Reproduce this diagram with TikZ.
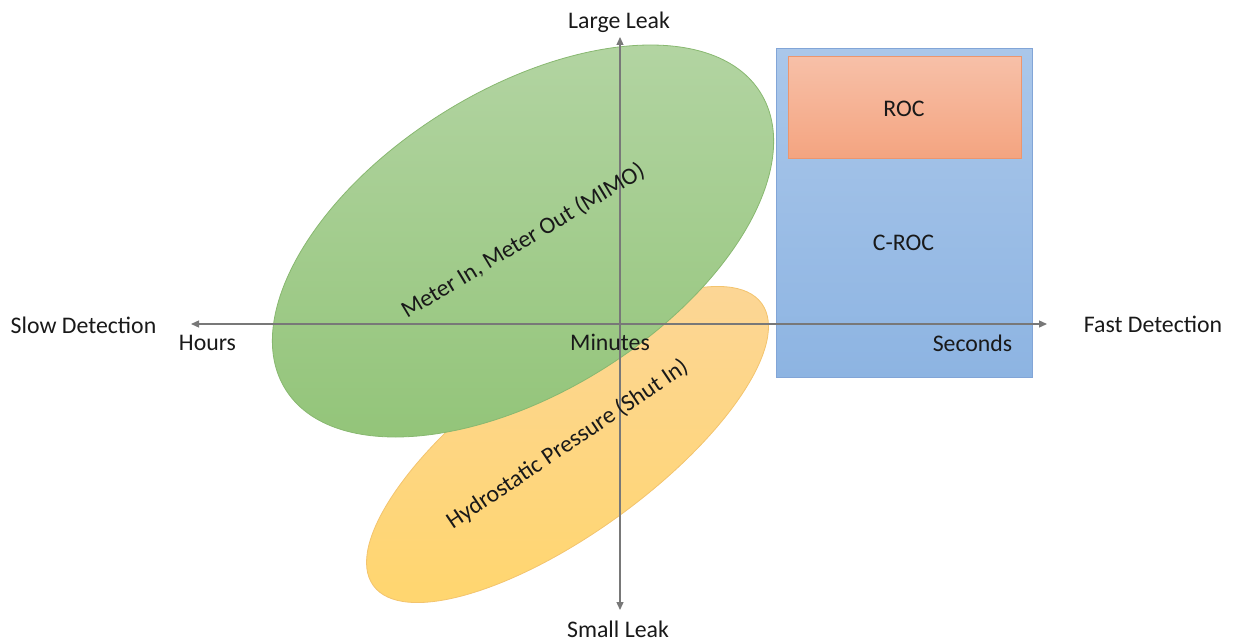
\documentclass[tikz,border=0pt]{standalone}
\usepackage{fontspec}
\setmainfont{Carlito}
\usetikzlibrary{shapes.geometric,arrows.meta}
\definecolor{axisgray}{RGB}{120,120,120}
\definecolor{txt}{RGB}{25,25,25}
\definecolor{greentop}{RGB}{180,213,164}
\definecolor{greenbot}{RGB}{146,196,120}
\definecolor{greenedge}{RGB}{136,184,112}
\definecolor{yellowtop}{RGB}{252,214,152}
\definecolor{yellowbot}{RGB}{255,214,112}
\definecolor{yellowedge}{RGB}{243,196,110}
\definecolor{bluetop}{RGB}{170,199,234}
\definecolor{bluebot}{RGB}{141,180,226}
\definecolor{blueedge}{RGB}{130,165,215}
\definecolor{orangetop}{RGB}{247,192,168}
\definecolor{orangebot}{RGB}{244,164,128}
\definecolor{orangeedge}{RGB}{236,150,110}
\begin{document}
\begin{tikzpicture}[x=1pt,y=-1pt,
  lbl/.style={anchor=base, inner sep=0, font=\fontsize{23.8}{28}\selectfont, text=txt},
  rlbl/.style={anchor=center, inner sep=0, font=\fontsize{23.8}{28}\selectfont, text=txt},
  blob/.style={ellipse, inner sep=0, line width=0.8pt},
  box/.style={rectangle, inner sep=0, anchor=north west, line width=1pt},
  axis/.style={draw=axisgray, line width=1.3pt, {Triangle[length=8pt,width=7pt]}-{Triangle[length=8pt,width=7pt]}}]
\useasboundingbox (0,0) rectangle (1233,642);
% regions
\node[blob, draw=yellowedge, top color=yellowtop, bottom color=yellowbot,
      minimum width=480pt, minimum height=176pt, rotate=36] (hp) at (567.5,444.5) {};
\node[blob, draw=greenedge, top color=greentop, bottom color=greenbot,
      minimum width=560pt, minimum height=302pt, rotate=32] (mimo) at (523,241) {};
\node[box, draw=blueedge, top color=bluetop, bottom color=bluebot,
      minimum width=256pt, minimum height=329pt] (croc) at (776,48) {};
\node[box, draw=orangeedge, top color=orangetop, bottom color=orangebot,
      minimum width=233pt, minimum height=102pt] (roc) at (788,56) {};
% axes
\coordinate (L) at (191,324);
\coordinate (R) at (1047,324);
\coordinate (T) at (620,37);
\coordinate (B) at (620,610);
\draw[axis] (L) -- (R);
\draw[axis] (B) -- (T);
% region labels
\node[rlbl, rotate=31] (mimoT) at (mimo.center) {Meter In, Meter Out (MIMO)};
\node[rlbl, rotate=34] (hpT) at (hp.center) {Hydrostatic Pressure (Shut In)};
\node[lbl] (rocT) at (904,116) {ROC};
\node[lbl] (crocT) at (903.5,250) {C-ROC};
% axis labels
\node[lbl] (large) at (619,29) {Large Leak};
\node[lbl] (small) at (618,637) {Small Leak};
\node[lbl] (slow) at (83.5,333) {Slow Detection};
\node[lbl] (fast) at (1153,332) {Fast Detection};
\node[lbl] (hours) at (207.5,350) {Hours};
\node[lbl] (minutes) at (610,350) {Minutes};
\node[lbl] (seconds) at (972.5,351) {Seconds};
\end{tikzpicture}
\end{document}
